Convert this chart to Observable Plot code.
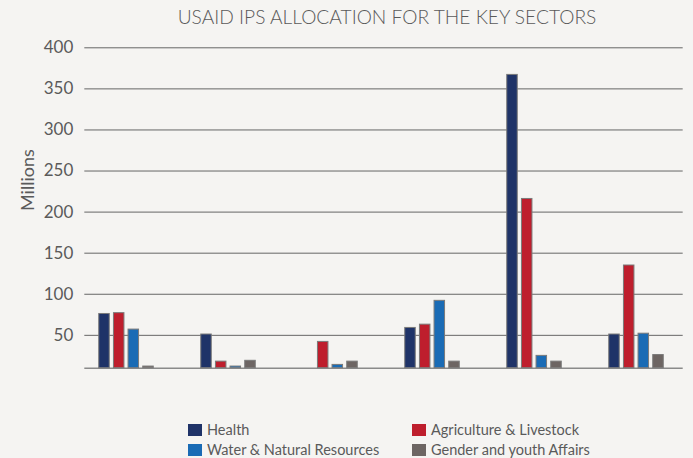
<!DOCTYPE html>
<html>
<head>
<meta charset="utf-8">
<script src="https://cdn.jsdelivr.net/npm/d3@7"></script>
<script src="https://cdn.jsdelivr.net/npm/@observablehq/plot@0.6"></script>
<style>
  html, body { margin: 0; padding: 0; background: #f5f4f2; }
  body { width: 693px; height: 458px; overflow: hidden; font-family: Lato, "Open Sans", sans-serif; color: #5a5a5a; }
  #title { height: 35px; position: relative; }
  #title span { position: absolute; left: 0; width: 774px; text-align: center; top: 5px; font-size: 19.2px; font-weight: 300; white-space: nowrap; }
  #chart { height: 360px; }
  #legend { position: relative; height: 63px; }
  .item { position: absolute; font-size: 14.5px; line-height: 18px; white-space: nowrap; display: flex; align-items: center; }
  .sw { width: 14px; height: 12px; margin-right: 5px; display: inline-block; }
</style>
</head>
<body>
<div id="title"><span>USAID IPS ALLOCATION FOR THE KEY SECTORS</span></div>
<div id="chart"></div>
<div id="legend"></div>
<script>
const groups = ["1", "2", "3", "4", "5", "6"];
const seriesNames = ["Health", "Agriculture & Livestock", "Water & Natural Resources", "Gender and youth Affairs"];
const seriesColors = ["#1f3368", "#be1e2d", "#1a6bb5", "#6d6563"];
const health      = [76, 51, 0, 59, 367, 51];
const agriculture = [77, 18, 42, 63, 216, 135];
const water       = [57, 12, 14, 92, 25, 52];
const gender      = [12, 19, 18, 18, 18, 26];
const yTicks = [50, 100, 150, 200, 250, 300, 350, 400];
const yLabel = "Millions";

const seriesValues = [health, agriculture, water, gender];
const offsets = [-22, -7.3, 7.3, 22];

const marks = [
  Plot.ruleY(yTicks, {stroke: "#666", strokeWidth: 1}),
  Plot.ruleY([10], {stroke: "#8a8a8a", strokeWidth: 1.5}),
  Plot.axisY({ticks: yTicks, tickSize: 0, tickPadding: 11.5, fontSize: 17, label: null}),
  Plot.text([yLabel], {text: d => d, frameAnchor: "left", dx: -57, dy: 3, rotate: -90, fontSize: 18, fill: "#5a5a5a"})
];
seriesValues.forEach((vals, i) => {
  const rows = groups.map((g, j) => ({group: g, value: vals[j]})).filter(d => d.value > 0);
  marks.push(Plot.barY(rows, {
    x: "group", y1: () => 10, y2: "value",
    fill: seriesColors[i], stroke: "#7a7a7a", strokeWidth: 1,
    dx: offsets[i], insetLeft: 45.75, insetRight: 45.75
  }));
});

const svgTop = 35;
const plot = Plot.plot({
  width: 693,
  height: 360,
  marginTop: 47.3 - svgTop,
  marginBottom: 360 - (367.7 - svgTop),
  marginLeft: 84.3,
  marginRight: 693 - 682.7,
  style: {background: "#f5f4f2", fontFamily: "Lato, 'Open Sans', sans-serif", color: "#5a5a5a", fontSize: "17px"},
  x: {type: "band", domain: groups, range: [73.75, 688.75], padding: 0, axis: null},
  y: {domain: [10, 400], clamp: true},
  marks
});
document.getElementById("chart").appendChild(plot);

const legend = document.getElementById("legend");
const positions = [[188, 25.5], [412, 25.5], [188, 45.5], [412, 45.5]];
seriesNames.forEach((name, i) => {
  const item = document.createElement("div");
  item.className = "item";
  item.style.left = positions[i][0] + "px";
  item.style.top = positions[i][1] + "px";
  const sw = document.createElement("span");
  sw.className = "sw";
  sw.style.background = seriesColors[i];
  item.appendChild(sw);
  item.appendChild(document.createTextNode(name));
  legend.appendChild(item);
});
</script>
</body>
</html>
